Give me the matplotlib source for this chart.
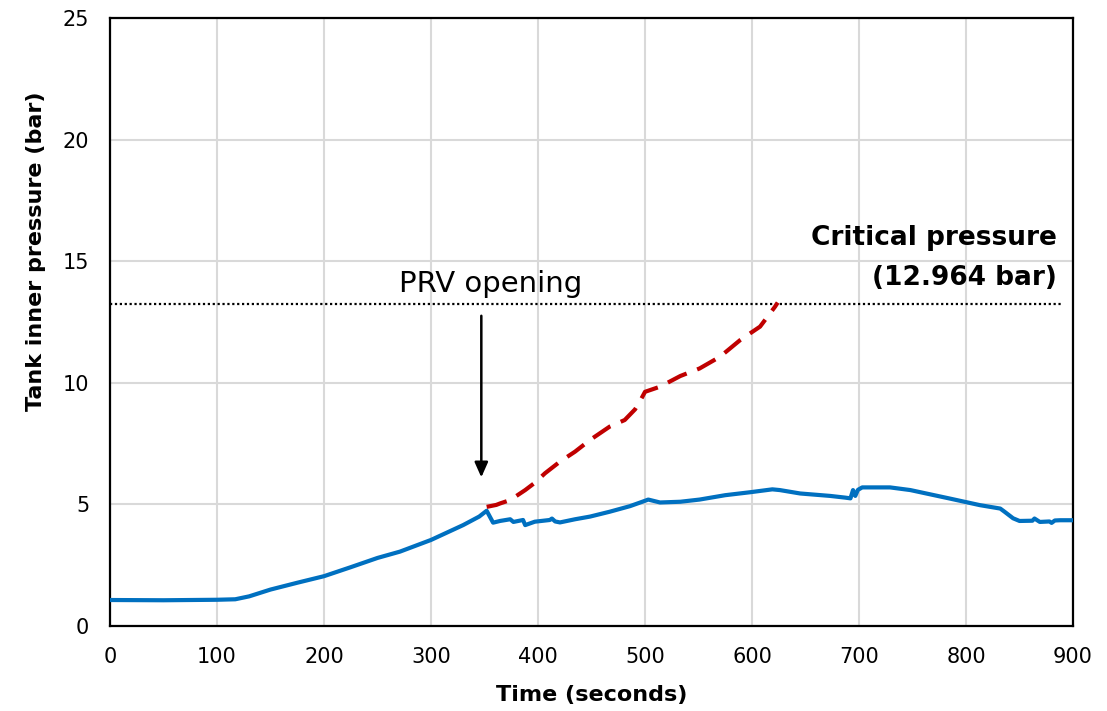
import numpy as np
import matplotlib.pyplot as plt

# blue curve: tank inner pressure with PRV
t_prv = [0, 50, 100, 117, 130, 140, 150, 175, 200, 225, 250, 271, 300, 330, 345, 352, 358,
         364.5, 374, 377, 386, 388, 397, 411, 413, 416, 420.5, 434.6, 448.6, 467, 486,
         500, 503, 514, 533, 551, 575, 598, 619, 626, 645, 673, 687, 692, 694.4, 696.5,
         699, 703, 729, 748, 785, 813, 832, 836, 844, 850, 862, 864, 869, 878, 880, 883,
         888, 900]
p_prv = [1.07, 1.06, 1.08, 1.10, 1.22, 1.36, 1.50, 1.78, 2.05, 2.42, 2.80, 3.06, 3.54, 4.15,
         4.50, 4.74, 4.25, 4.32, 4.39, 4.28, 4.36, 4.15, 4.29, 4.36, 4.42, 4.30, 4.26,
         4.39, 4.50, 4.70, 4.93, 5.15, 5.20, 5.08, 5.11, 5.20, 5.38, 5.50, 5.62, 5.59,
         5.45, 5.35, 5.28, 5.25, 5.59, 5.35, 5.60, 5.70, 5.70, 5.59, 5.24, 4.97, 4.83,
         4.70, 4.43, 4.32, 4.33, 4.42, 4.28, 4.30, 4.24, 4.34, 4.35, 4.35]

# red dashed curve: without PRV
t_nop = [352, 361, 364.5, 374, 388, 397, 406.5, 420.5, 434.6, 448.6, 467, 481, 490.7,
         495, 500, 514, 533, 551, 570, 589, 607.5, 621.5, 624]
p_nop = [4.90, 4.98, 5.04, 5.18, 5.59, 5.89, 6.28, 6.76, 7.17, 7.65, 8.20, 8.47, 8.91,
         9.22, 9.63, 9.84, 10.28, 10.59, 11.07, 11.76, 12.31, 13.13, 13.30]

crit_level = 13.24
arrow_t = 347
arrow_from, arrow_to = 12.87, 6.0

fig = plt.figure(figsize=(11.07, 7.11), dpi=100)
ax = fig.add_axes([0.0994, 0.1195, 0.8699, 0.8552])

ax.plot(t_prv, p_prv, color='#0070C0', lw=3, zorder=3)
ax.plot(t_nop, p_nop, color='#C00000', lw=3, ls=(0, (5, 2.7)), zorder=3)
ax.plot([0, 890], [crit_level, crit_level], color='black', lw=1.6, ls=(0, (1, 1.2)), zorder=2)

ax.annotate('', xy=(arrow_t, arrow_to), xytext=(arrow_t, arrow_from),
            arrowprops=dict(arrowstyle='-|>,head_length=0.9,head_width=0.4', color='black', lw=1.8))
ax.text(356, 14.05, 'PRV opening', ha='center', va='center', fontsize=21)
ax.text(885, 15.95, 'Critical pressure', ha='right', va='center', fontsize=19, fontweight='bold')
ax.text(885, 14.3, '(12.964 bar)', ha='right', va='center', fontsize=19, fontweight='bold')

ax.set_xlim(0, 900)
ax.set_ylim(0, 25)
ax.set_xticks(np.arange(0, 901, 100))
ax.set_yticks(np.arange(0, 26, 5))
ax.grid(True, color='#d9d9d9', lw=1.5)
ax.set_axisbelow(True)
ax.tick_params(length=0, labelsize=15, pad=15)
for s in ax.spines.values():
    s.set_linewidth(1.6)
ax.set_xlabel('Time (seconds)', fontsize=16, fontweight='bold', labelpad=13)
ax.set_ylabel('Tank inner pressure (bar)', fontsize=16, fontweight='bold')
ax.yaxis.set_label_coords(-0.067, 0.617)

fig.savefig('out.png', dpi=100)
